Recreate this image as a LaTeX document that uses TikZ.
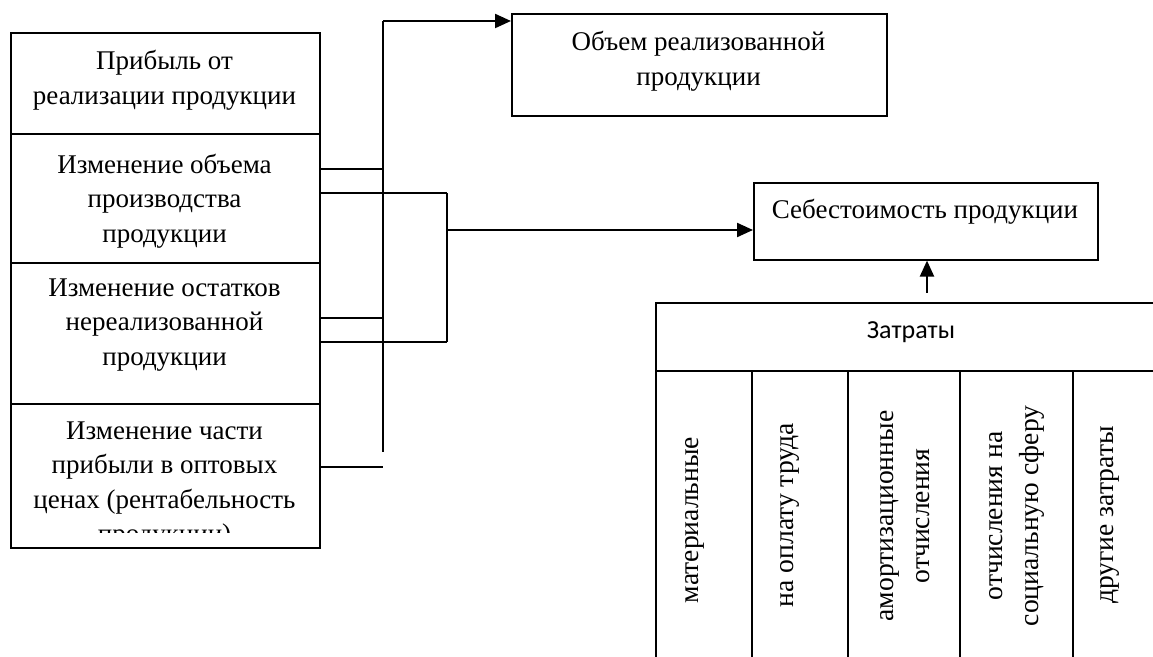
\documentclass[tikz,border=0pt]{standalone}
\usepackage{fontspec}
\setmainfont{Liberation Serif}
\newfontfamily\calfont{Carlito}
\usetikzlibrary{arrows.meta,calc}
\begin{document}
\begin{tikzpicture}[x=0.5pt,y=-0.5pt,
  box/.style={draw, line width=0.8pt, inner sep=0pt, anchor=north west},
  txt/.style={align=center, font=\fontsize{13.5}{17.3}\selectfont, inner sep=0pt},
  vtxt/.style={align=center, font=\fontsize{13.8}{18}\selectfont, inner sep=0pt, rotate=90},
  conn/.style={line width=0.7pt},
  arr/.style={line width=1.1pt, -{Triangle[length=8pt,width=7pt]}},
]
\useasboundingbox (0,0) rectangle (1153,657);

% left column
\node[box, minimum width=154.5pt, minimum height=50.5pt] (b1) at (10,32) {};
\node[box, minimum width=154.5pt, minimum height=64.5pt] (b2) at (10,133) {};
\node[box, minimum width=154.5pt, minimum height=70.5pt] (b3) at (10,262) {};
\node[box, minimum width=154.5pt, minimum height=72pt] (b4) at (10,403) {};
\node[txt] (t1) at (164.5,80) {Прибыль от\\реализации продукции};
\node[txt] (t2) at (164.5,201) {Изменение объема\\производства\\продукции};
\node[txt] (t3) at (164.5,325) {Изменение остатков\\нереализованной\\продукции};
\begin{scope}
\clip (10,403) rectangle (319,533);
\node[txt] (t4) at (164.5,485) {Изменение части\\прибыли в оптовых\\ценах (рентабельность\\продукции)};
\end{scope}

% right boxes
\node[box, minimum width=187.5pt, minimum height=51pt] (o) at (511,13) {};
\node[txt] (to) at (698.5,61) {Объем реализованной\\продукции};
\node[box, minimum width=172pt, minimum height=38.5pt] (s) at (753,182) {};
\node[txt] (ts) at (925,212) {Себестоимость продукции};

% costs table
\node[box, minimum width=257.5pt, minimum height=34pt] (z) at (655,302) {};
\node[font=\calfont\fontsize{13}{15}\selectfont, inner sep=0pt] (tz) at (911,332) {Затраты};
\node[box, minimum width=48pt, minimum height=150pt] (c1) at (655,370) {};
\node[box, minimum width=48pt, minimum height=150pt] (c2) at (751,370) {};
\node[box, minimum width=56pt, minimum height=150pt] (c3) at (847,370) {};
\node[box, minimum width=56.5pt, minimum height=150pt] (c4) at (959,370) {};
\node[box, minimum width=50pt, minimum height=150pt] (c5) at (1072,370) {};
\node[vtxt] (v1) at (695,520) {материальные};
\node[vtxt] (v2) at (790,515) {на оплату труда};
\node[vtxt] (v3) at (905,516) {амортизационные\\отчисления};
\node[vtxt] (v4) at (1016.5,516) {отчисления на\\социальную сферу};
\node[vtxt] (v5) at (1110,515) {другие затраты};

% buses
\coordinate (bus1top) at (383,21);
\coordinate (bus1bot) at (383,452);
\coordinate (bus2top) at (447,193);
\coordinate (bus2bot) at (447,342);
\coordinate (bus2mid) at (447,230);
\coordinate (zt) at (927,293);

\draw[conn] (bus1bot) -- (bus1top);
\draw[arr] (bus1top) -- (bus1top -| o.west);
\draw[conn] (bus2top) -- (bus2bot);
\draw[arr] (bus2mid) -- (bus2mid -| s.west);
\draw[arr] (zt) -- (zt |- s.south);

% feeders
\coordinate (f1) at ($(b2.north east)+(0,36)$);
\coordinate (f2) at ($(b2.north east)+(0,60)$);
\coordinate (f3) at ($(b3.north east)+(0,56)$);
\coordinate (f4) at ($(b3.north east)+(0,80)$);
\coordinate (f5) at ($(b4.north east)+(0,64)$);
\draw[conn] (f1) -- (f1 -| bus1top);
\draw[conn] (f2) -- (bus2top);
\draw[conn] (f3) -- (f3 -| bus1top);
\draw[conn] (f4) -- (bus2bot);
\draw[conn] (f5) -- (f5 -| bus1top);
\end{tikzpicture}
\end{document}
